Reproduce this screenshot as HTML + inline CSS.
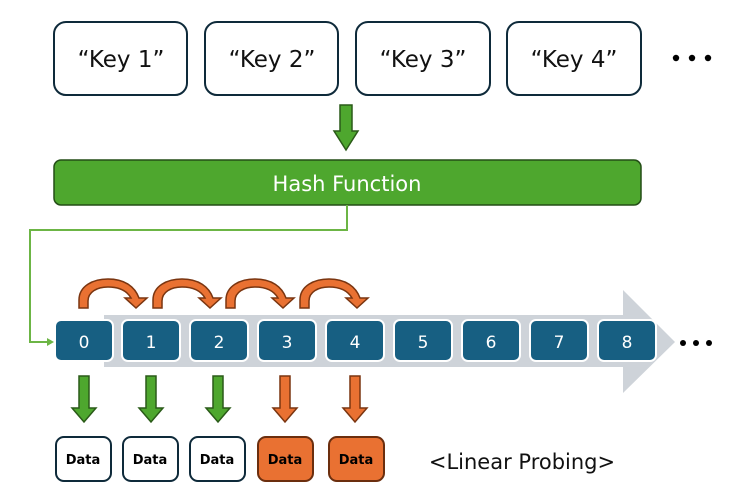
<!DOCTYPE html>
<html><head><meta charset="utf-8"><style>
html,body{margin:0;padding:0;background:#fff;}
body{width:738px;height:497px;overflow:hidden;}
text{font-family:"DejaVu Sans","Liberation Sans",sans-serif;}
</style></head><body>
<svg width="738" height="497" viewBox="0 0 738 497" xmlns="http://www.w3.org/2000/svg">
<g fill="#fff" stroke="#0e2a3a" stroke-width="2">
<rect x="54" y="22" width="133" height="73" rx="12"/>
<rect x="205" y="22" width="133" height="73" rx="12"/>
<rect x="356" y="22" width="134" height="73" rx="12"/>
<rect x="507" y="22" width="134" height="73" rx="12"/>
</g>
<g font-size="23" fill="#111" text-anchor="middle">
<text x="121" y="67">“Key 1”</text>
<text x="272" y="67">“Key 2”</text>
<text x="423" y="67">“Key 3”</text>
<text x="574" y="67">“Key 4”</text>
</g>
<g fill="#000"><circle cx="676" cy="58" r="3.2"/><circle cx="692" cy="58" r="3.2"/><circle cx="708" cy="58" r="3.2"/></g>
<polygon points="340,105 352,105 352,131 358,131 346,150 334,131 340,131" fill="#4ea72e" stroke="#2a5a18" stroke-width="1.5"/>
<rect x="54" y="160" width="587" height="45" rx="7" fill="#4ea72e" stroke="#234d16" stroke-width="1.5"/>
<text x="347" y="191" font-size="21" fill="#fff" text-anchor="middle">Hash Function</text>
<polyline points="347,205 347,230 30,230 30,342 50,342" fill="none" stroke="#6cb545" stroke-width="2"/>
<polygon points="54,342 47,338 47,346" fill="#6cb545"/>
<polygon points="104,315 623,315 623,290 675,342 623,393 623,367 104,367" fill="#ced3d9"/>
<g fill="#175f82" stroke="#fff" stroke-width="2">
<rect x="55" y="320" width="58" height="41" rx="6"/>
<rect x="122" y="320" width="58" height="41" rx="6"/>
<rect x="190" y="320" width="58" height="41" rx="6"/>
<rect x="258" y="320" width="58" height="41" rx="6"/>
<rect x="326" y="320" width="58" height="41" rx="6"/>
<rect x="394" y="320" width="58" height="41" rx="6"/>
<rect x="462" y="320" width="58" height="41" rx="6"/>
<rect x="530" y="320" width="58" height="41" rx="6"/>
<rect x="598" y="320" width="58" height="41" rx="6"/>
</g>
<g font-size="17" fill="#fff" text-anchor="middle">
<text x="84" y="348">0</text><text x="151" y="348">1</text><text x="219" y="348">2</text>
<text x="287" y="348">3</text><text x="355" y="348">4</text><text x="423" y="348">5</text>
<text x="491" y="348">6</text><text x="559" y="348">7</text><text x="627" y="348">8</text>
</g>
<g fill="#000"><circle cx="683" cy="343" r="3"/><circle cx="696" cy="343" r="3"/><circle cx="709" cy="343" r="3"/></g>
<defs>
<path id="ca" d="M0,28 L0,20 C0,6 14,-1 29,-1 C46,-1 56,7 60,18 L68,18 L57,28 L46,18 L52,18 C48,11 40,7 29,7 C18,7 9,12 9,21 L9,28 Z" fill="#e97132" stroke="#7a3510" stroke-width="1.5"/>
<polygon id="da" points="-5,0 5,0 5,32 12,32 0,46 -12,32 -5,32"/>
</defs>
<use href="#ca" x="79" y="280"/>
<use href="#ca" x="153" y="280"/>
<use href="#ca" x="226" y="280"/>
<use href="#ca" x="300" y="280"/>
<g fill="#4ea72e" stroke="#2a5a18" stroke-width="1.5">
<use href="#da" x="84" y="376"/><use href="#da" x="151" y="376"/><use href="#da" x="218" y="376"/>
</g>
<g fill="#e97132" stroke="#7a3510" stroke-width="1.5">
<use href="#da" x="285" y="376"/><use href="#da" x="355" y="376"/>
</g>
<g fill="#fff" stroke="#0e2a3a" stroke-width="2">
<rect x="56" y="437" width="55" height="44" rx="8"/>
<rect x="123" y="437" width="55" height="44" rx="8"/>
<rect x="190" y="437" width="55" height="44" rx="8"/>
</g>
<g fill="#e97132" stroke="#6b2e0e" stroke-width="2">
<rect x="258" y="437" width="55" height="44" rx="8"/>
<rect x="329" y="437" width="55" height="44" rx="8"/>
</g>
<g font-size="13" font-weight="bold" fill="#000" text-anchor="middle">
<text x="83" y="464">Data</text><text x="150" y="464">Data</text><text x="217" y="464">Data</text>
<text x="285" y="464">Data</text><text x="356" y="464">Data</text>
</g>
<text x="522" y="469" font-size="21" fill="#111" text-anchor="middle">&lt;Linear Probing&gt;</text>
</svg>
</body></html>
